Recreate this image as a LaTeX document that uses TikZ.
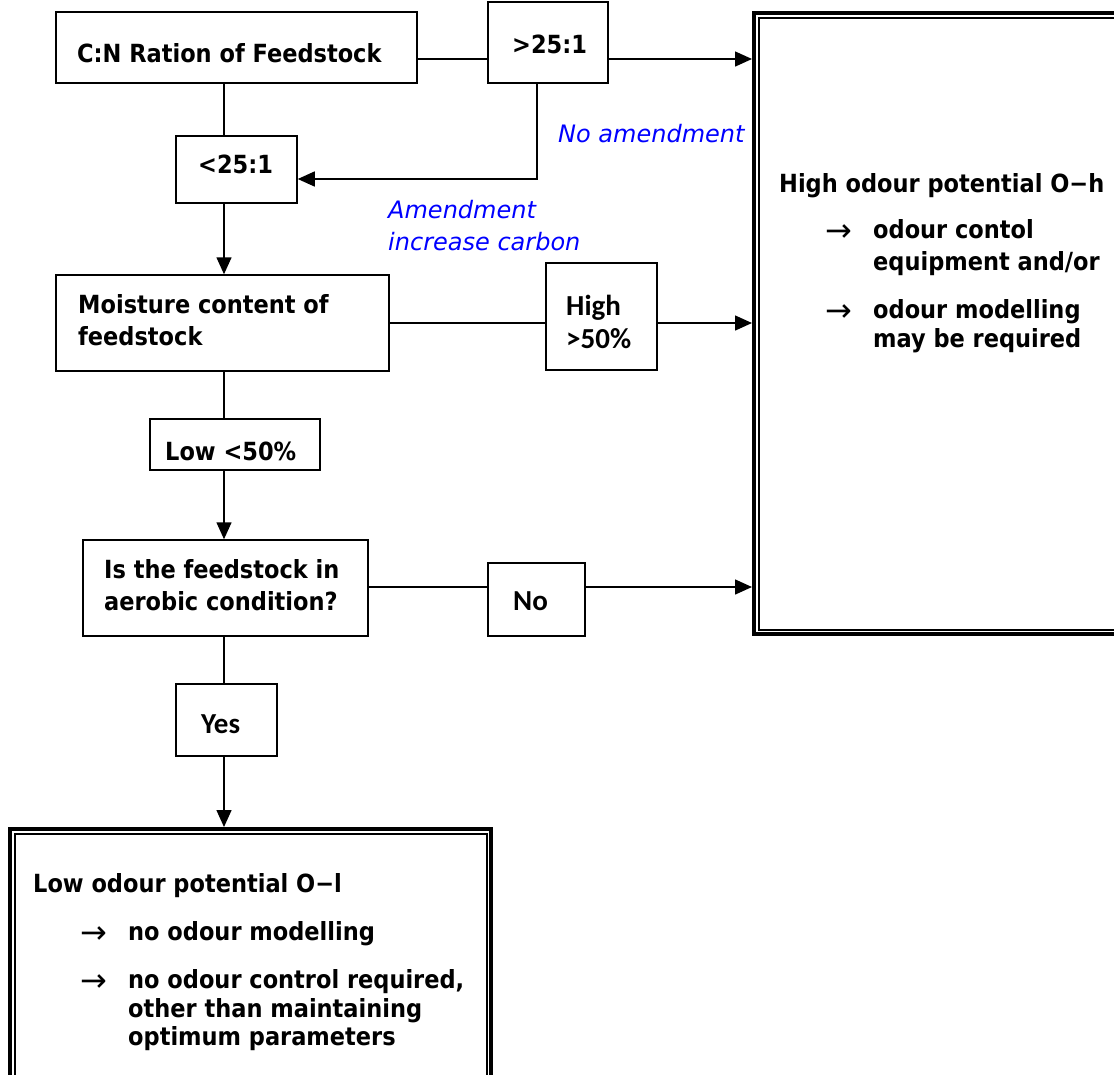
\documentclass[tikz,border=0pt]{standalone}
\usepackage{fontspec}
\setmainfont{DejaVu Sans}
\newfontfamily\tah{DejaVu Sans Condensed}
\newfontfamily\calib{Carlito}
\newfontfamily\verd{DejaVu Sans}
\usetikzlibrary{arrows.meta}
\tikzset{
  box/.style={draw, line width=1.5pt, inner sep=0pt, fill=none},
  dblbox/.style={draw, line width=4pt, inner sep=0pt},
  inline/.style={line width=2pt},
  txt/.style={anchor=base west, inner sep=0pt, font=\tah\bfseries\fontsize{25}{29}\selectfont},
  arrg/.style={anchor=base west, inner sep=0pt, font=\verd\fontsize{32}{34}\selectfont},
  cal/.style={anchor=base west, inner sep=0pt, font=\calib\bfseries\fontsize{29}{33}\selectfont},
  blu/.style={anchor=base west, inner sep=0pt, text={rgb,255:red,0;green,0;blue,255}, font=\verd\itshape\fontsize{24}{28}\selectfont},
  conn/.style={line width=1.5pt},
  arr/.style={line width=1.5pt, -{Triangle[length=17pt,width=15pt]}}
}
\begin{document}
\begin{tikzpicture}[x=1pt,y=-1pt]
\useasboundingbox (0,0) rectangle (1114,1074);
\clip (0,0) rectangle (1114,1074);
\fill[white] (0,0) rectangle (1114,1074);

% boxes
\node[box, minimum width=361pt, minimum height=71pt] (cn) at (236.5,47.5) {};
\node[box, minimum width=120pt, minimum height=81pt] (gt) at (548,42.5) {};
\node[box, minimum width=121pt, minimum height=67pt] (lt) at (236.5,169.5) {};
\node[box, minimum width=333pt, minimum height=96pt] (mo) at (222.5,323) {};
\node[box, minimum width=111pt, minimum height=107pt] (hg) at (601.5,316.5) {};
\node[box, minimum width=170pt, minimum height=51pt] (lw) at (235,444.5) {};
\node[box, minimum width=285pt, minimum height=96pt] (isa) at (225.5,588) {};
\node[box, minimum width=97pt, minimum height=73pt] (no) at (536.5,599.5) {};
\node[box, minimum width=101pt, minimum height=72pt] (yes) at (226.5,720) {};

\node[dblbox, minimum width=369pt, minimum height=621pt] (hi) at (938.5,323.5) {};
\draw[inline] ([shift={(6.5,6.5)}]hi.north west) rectangle ([shift={(10,-6.5)}]hi.south east);
\node[dblbox, minimum width=481pt, minimum height=259pt] (lo) at (250.5,958.5) {};
\draw[inline] ([shift={(6.5,6.5)}]lo.north west) rectangle ([shift={(-6.5,10)}]lo.south east);

% texts
\node[txt] (cnT) at (77,62) {C:N Ration of Feedstock};
\node[txt] (gtT) at (512,53) {>25:1};
\node[txt] (ltT) at (198,173) {<25:1};
\node[blu] (noam) at (558,142) {No amendment};
\node[blu] (am1) at (388,218) {Amendment};
\node[blu] (am2) at (388,250) {increase carbon};
\node[txt] (moT1) at (78,313) {Moisture content of};
\node[txt] (moT2) at (78,345) {feedstock};
\node[cal] (hgT1) at (566,315) {High};
\node[cal] (hgT2) at (566,348) {>50\%};
\node[txt] (lwT) at (165,460) {Low <50\%};
\node[txt] (isT1) at (104,578) {Is the feedstock in};
\node[txt] (isT2) at (104,610) {aerobic condition?};
\node[cal] (noT) at (513,610) {No};
\node[cal] (yesT) at (201,733) {Yes};

\node[txt] (hiT) at (779,192) {High odour potential O−h};
\node[arrg] (hiA1) at (825,241) {→};
\node[txt] (hiB1) at (873,238) {odour contol};
\node[txt] (hiB2) at (873,270) {equipment and/or};
\node[arrg] (hiA2) at (825,321) {→};
\node[txt] (hiC1) at (873,318) {odour modelling};
\node[txt] (hiC2) at (873,347) {may be required};

\node[txt] (loT) at (33,892) {Low odour potential O−l};
\node[arrg] (loA1) at (80,943) {→};
\node[txt] (loB1) at (128,940) {no odour modelling};
\node[arrg] (loA2) at (80,991) {→};
\node[txt] (loC1) at (128,988) {no odour control required,};
\node[txt] (loC2) at (128,1017) {other than maintaining};
\node[txt] (loC3) at (128,1045) {optimum parameters};

% connectors
\draw[conn] (cn.east |- 0,59) -- (gt.west |- 0,59);
\draw[arr] (gt.east |- 0,59) -- (hi.west |- 0,59);
\draw[arr] (gt.south -| 537,0) -- (537,179) coordinate (tA) -- (lt.east |- tA);
\draw[conn] (cn.south -| 224,0) -- (lt.north -| 224,0);
\draw[arr] (lt.south -| 224,0) -- (mo.north -| 224,0);
\draw[conn] (mo.east |- 0,323) -- (hg.west |- 0,323);
\draw[arr] (hg.east |- 0,323) -- (hi.west |- 0,323);
\draw[conn] (mo.south -| 224,0) -- (lw.north -| 224,0);
\draw[arr] (lw.south -| 224,0) -- (isa.north -| 224,0);
\draw[conn] (isa.east |- 0,587) -- (no.west |- 0,587);
\draw[arr] (no.east |- 0,587) -- (hi.west |- 0,587);
\draw[conn] (isa.south -| 224,0) -- (yes.north -| 224,0);
\draw[arr] (yes.south -| 224,0) -- (lo.north -| 224,0);
\end{tikzpicture}
\end{document}
